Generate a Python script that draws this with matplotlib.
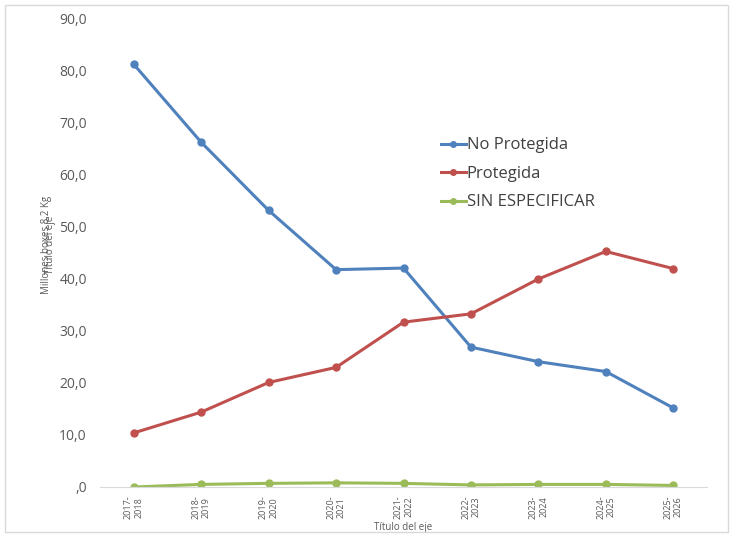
import matplotlib
matplotlib.use("Agg")
import matplotlib.pyplot as plt
from matplotlib.patches import Rectangle
from matplotlib.ticker import FuncFormatter

plt.rcParams['font.family'] = ['Open Sans', 'DejaVu Sans']

temporadas = ["2017-\n2018", "2018-\n2019", "2019-\n2020", "2020-\n2021", "2021-\n2022",
              "2022-\n2023", "2023-\n2024", "2024-\n2025", "2025-\n2026"]
no_protegida = [81.3, 66.3, 53.2, 41.8, 42.1, 26.9, 24.1, 22.2, 15.2]
protegida = [10.4, 14.4, 20.1, 23.0, 31.7, 33.3, 40.0, 45.3, 42.0]
sin_especificar = [0.0, 0.5, 0.7, 0.8, 0.7, 0.4, 0.5, 0.5, 0.3]

series = [("No Protegida", no_protegida, "#4F81BD"),
          ("Protegida", protegida, "#C0504D"),
          ("SIN ESPECIFICAR", sin_especificar, "#9BBB59")]

fig = plt.figure(figsize=(7.30, 5.34), dpi=100)
ax = fig.add_axes([100/730, 1-487/534, 607/730, 468/534])

x = list(range(len(temporadas)))
for nombre, vals, col in series:
    ax.plot(x, vals, color=col, lw=2.2, marker="o", ms=5, label=nombre)

ax.set_xlim(-0.5, len(temporadas)-0.5)
ax.set_ylim(0, 90)
ax.set_yticks(range(0, 91, 10))

def fmt(v, pos):
    if v == 0:
        return ",0"
    return ("%.1f" % v).replace(".", ",")
ax.yaxis.set_major_formatter(FuncFormatter(fmt))
ax.set_xticks(x)
ax.set_xticklabels(temporadas, rotation=90, fontsize=6.5, color="#595959")
ax.tick_params(axis="y", length=0, labelsize=10, labelcolor="#595959", pad=9.5)
ax.tick_params(axis="x", length=0, pad=6)

for s in ["top", "right", "left"]:
    ax.spines[s].set_visible(False)
ax.spines["bottom"].set_color("#D9D9D9")

ax.set_xlabel("Título del eje", fontsize=7, color="#595959", labelpad=2)
# en el original los dos títulos del eje y quedan encimados
fig.text(47/730, 1-245/534, "Millones boxes 8,2 Kg", rotation=90, fontsize=7,
         color="#595959", ha="center", va="center")
fig.text(51/730, 1-245/534, "Título del eje", rotation=90, fontsize=7,
         color="#595959", ha="center", va="center")

leg = ax.legend(loc="upper left", bbox_to_anchor=(0.537, 0.779), frameon=False,
                fontsize=12, handlelength=1.5, handletextpad=0.05, labelspacing=0.75,
                markerscale=0.8)
for t in leg.get_texts():
    t.set_color("#404040")

fig.patches.append(Rectangle((5/730, 2/534), 723/730, 527/534, transform=fig.transFigure,
                             fill=False, ec="#D9D9D9", lw=1))

fig.savefig("out.png", dpi=100)
